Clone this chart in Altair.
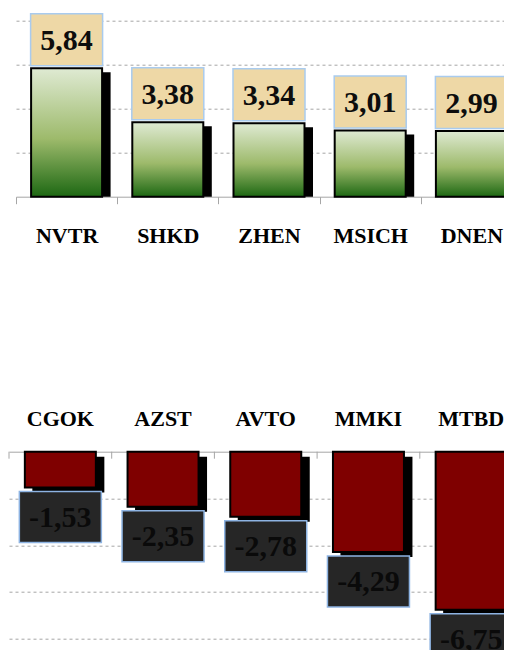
import altair as alt
import pandas as pd

top_cats = ["NVTR", "SHKD", "ZHEN", "MSICH", "DNEN"]
top_vals = [5.84, 3.38, 3.34, 3.01, 2.99]
bot_cats = ["CGOK", "AZST", "AVTO", "MMKI", "MTBD"]
bot_vals = [-1.53, -2.35, -2.78, -4.29, -6.75]
top_grid = [2, 4, 6, 8]
bot_grid = [-2, -4, -6, -8]


def fmt(v):
    return f"{v:.2f}".replace(".", ",")


top_df = pd.DataFrame({"cat": top_cats, "val": top_vals, "label": [fmt(v) for v in top_vals]})
bot_df = pd.DataFrame({"cat": bot_cats, "val": bot_vals, "label": [fmt(v) for v in bot_vals]})

SERIF = "Liberation Serif"
GRID = "#a6a6a6"

green = alt.Gradient(
    gradient="linear", x1=0, x2=0, y1=0, y2=1,
    stops=[
        alt.GradientStop(color="#dfead3", offset=0),
        alt.GradientStop(color="#9dba6b", offset=0.55),
        alt.GradientStop(color="#1d6813", offset=1),
    ],
)

# ---------- top panel ----------
W1, H1 = 506, 176
top_scale = alt.Scale(paddingInner=0, paddingOuter=0)
top_axis = alt.Axis(title=None, orient="bottom", domainColor=GRID, tickColor=GRID,
                    tickSize=7, tickBand="extent", labelFont=SERIF, labelFontSize=22,
                    labelFontWeight="bold", labelColor="#000000", labelBaseline="alphabetic",
                    labelPadding=38.6, labelAngle=0)
x_top = alt.X("cat:N", sort=top_cats, scale=top_scale, axis=top_axis)
y_top = alt.Y(
    "val:Q", scale=alt.Scale(domain=[0, 8], nice=False),
    axis=alt.Axis(title=None, labels=False, ticks=False, domain=False, grid=True,
                  gridColor=GRID, gridDash=[3, 3], values=top_grid),
)

tb = alt.Chart(top_df)
top_shadow = tb.mark_bar(color="#000000", width=72, xOffset=8, yOffset=4, y2Offset=4, clip=True).encode(x=x_top, y=y_top)
top_bar = tb.mark_bar(fill=green, stroke="#000000", strokeWidth=2, width=71).encode(x=x_top, y=y_top)
top_box = tb.mark_bar(fill="#eed8a6", stroke="#a9cbee", strokeWidth=1.5, width=72,
                      yOffset=-2.5, y2Offset=-54.5).encode(x=x_top, y=y_top, y2=alt.Y2("val:Q"))
top_text = tb.mark_text(font=SERIF, fontSize=30, fontWeight="bold", color="#0d0d0d",
                        baseline="middle", dy=-27).encode(x=x_top, y=y_top, text="label:N")

top = alt.layer(top_shadow, top_bar, top_box, top_text).properties(width=W1, height=H1)

# invisible 1px cell that moves the upper panel 7px to the right
spacer = alt.Chart(top_df).mark_point(opacity=0).encode(
    x=alt.value(0), y=alt.value(0)).properties(width=1, height=1)
top_row = alt.hconcat(spacer, top, spacing=6, bounds="flush")

# ---------- bottom panel ----------
W2, H2 = 513.5, 187.2
bot_axis = alt.Axis(title=None, orient="top", domainColor=GRID, ticks=False, tickSize=0,
                    labelFont=SERIF, labelFontSize=22, labelFontWeight="bold",
                    labelColor="#000000", labelBaseline="alphabetic", labelPadding=26.7,
                    labelAngle=0)
bot_scale = alt.Scale(paddingInner=0, paddingOuter=0)
x_bot = alt.X("cat:N", sort=bot_cats, scale=bot_scale, axis=bot_axis)
y_bot = alt.Y(
    "val:Q", scale=alt.Scale(domain=[-8, 0], nice=False),
    axis=alt.Axis(title=None, labels=False, ticks=False, domain=False, grid=True,
                  gridColor=GRID, gridDash=[3, 3], values=bot_grid),
)

bb = alt.Chart(bot_df)
bot_ticks = bb.mark_rule(color=GRID, strokeWidth=1).encode(
    x=alt.X("cat:N", sort=bot_cats, bandPosition=0, scale=bot_scale, axis=bot_axis),
    y=alt.value(0), y2=alt.value(7))
bot_shadow = bb.mark_bar(color="#000000", width=72, xOffset=8, yOffset=5, y2Offset=5, clip=True).encode(x=x_bot, y=y_bot)
bot_bar = bb.mark_bar(fill="#7f0000", stroke="#000000", strokeWidth=2, width=71).encode(x=x_bot, y=y_bot)
bot_box = bb.mark_bar(fill="#262626", stroke="#8db3e2", strokeWidth=1.5, width=82,
                      yOffset=4, y2Offset=55).encode(x=x_bot, y=y_bot, y2=alt.Y2("val:Q"))
bot_text = bb.mark_text(font=SERIF, fontSize=30, fontWeight="bold", color="#0a0a0a",
                        baseline="middle", dy=30).encode(x=x_bot, y=y_bot, text="label:N")

bottom = alt.layer(bot_ticks, bot_shadow, bot_bar, bot_box, bot_text).properties(width=W2, height=H2)

chart = (
    alt.vconcat(top_row, bottom, spacing=431, bounds="flush")
    .properties(
        autosize=alt.AutoSizeParams(type="none"),
        padding={"left": 1, "top": 12.7, "right": 495, "bottom": 629.3},
        background="#ffffff",
    )
    .configure_view(stroke=None)
)

chart.save("out.html", embed_options={"renderer": "svg", "actions": False})
